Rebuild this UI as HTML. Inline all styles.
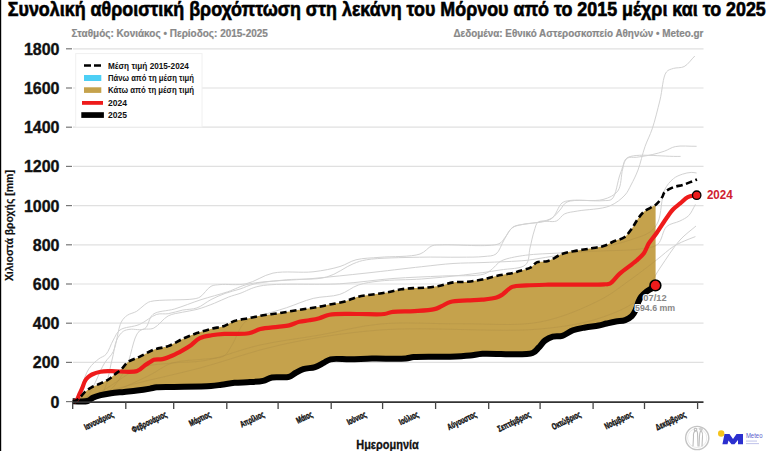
<!DOCTYPE html>
<html><head><meta charset="utf-8">
<style>
html,body{margin:0;padding:0;background:#fff;}
body{width:768px;height:451px;overflow:hidden;position:relative;}
svg{position:absolute;left:0;top:0;}
text{font-family:"Liberation Sans",sans-serif;font-weight:bold;}
.grid{stroke:#e0e0e0;stroke-width:1.2;}
.tk{stroke:#777;stroke-width:1.2;}
.xtk{stroke:#444;stroke-width:1.3;}
.yl{font-size:16px;text-anchor:end;fill:#111;stroke:#111;stroke-width:0.35;}
.ml{font-size:8.8px;text-anchor:middle;fill:#111;stroke:#111;stroke-width:0.45;}
.gl path{fill:none;stroke:#d2d2d2;stroke-width:1;}
.gi path{fill:none;stroke:#a88a45;stroke-width:1;opacity:.32}
</style></head>
<body>
<svg width="768" height="451" viewBox="0 0 768 451">
<rect x="0" y="0" width="1.2" height="451" fill="#000"/>
<text x="7.8" y="15.6" font-size="19.3" textLength="758" lengthAdjust="spacingAndGlyphs" fill="#000" stroke="#000" stroke-width="0.6">Συνολική αθροιστική βροχόπτωση στη λεκάνη του Μόρνου από το 2015 μέχρι και το 2025</text>
<text x="71.5" y="37" font-size="10.3" textLength="196.4" lengthAdjust="spacingAndGlyphs" fill="#888" stroke="#888" stroke-width="0.2">Σταθμός: Κονιάκος • Περίοδος: 2015-2025</text>
<text x="703.4" y="37" font-size="10.3" text-anchor="end" textLength="250" lengthAdjust="spacingAndGlyphs" fill="#888" stroke="#888" stroke-width="0.2">Δεδομένα: Εθνικό Αστεροσκοπείο Αθηνών • Meteo.gr</text>
<line x1="66" y1="401.6" x2="72" y2="401.6" class="tk"/><text x="59.5" y="407.5" class="yl">0</text><line x1="66" y1="362.4" x2="72" y2="362.4" class="tk"/><line x1="73" y1="362.4" x2="703.5" y2="362.4" class="grid"/><text x="59.5" y="368.3" class="yl">200</text><line x1="66" y1="323.2" x2="72" y2="323.2" class="tk"/><line x1="73" y1="323.2" x2="703.5" y2="323.2" class="grid"/><text x="59.5" y="329.1" class="yl">400</text><line x1="66" y1="284.0" x2="72" y2="284.0" class="tk"/><line x1="73" y1="284.0" x2="703.5" y2="284.0" class="grid"/><text x="59.5" y="289.9" class="yl">600</text><line x1="66" y1="244.8" x2="72" y2="244.8" class="tk"/><line x1="73" y1="244.8" x2="703.5" y2="244.8" class="grid"/><text x="59.5" y="250.7" class="yl">800</text><line x1="66" y1="205.6" x2="72" y2="205.6" class="tk"/><line x1="73" y1="205.6" x2="703.5" y2="205.6" class="grid"/><text x="59.5" y="211.5" class="yl">1000</text><line x1="66" y1="166.4" x2="72" y2="166.4" class="tk"/><line x1="73" y1="166.4" x2="703.5" y2="166.4" class="grid"/><text x="59.5" y="172.3" class="yl">1200</text><line x1="66" y1="127.2" x2="72" y2="127.2" class="tk"/><line x1="73" y1="127.2" x2="703.5" y2="127.2" class="grid"/><text x="59.5" y="133.1" class="yl">1400</text><line x1="66" y1="88.0" x2="72" y2="88.0" class="tk"/><line x1="73" y1="88.0" x2="703.5" y2="88.0" class="grid"/><text x="59.5" y="93.9" class="yl">1600</text><line x1="66" y1="48.8" x2="72" y2="48.8" class="tk"/><line x1="73" y1="48.8" x2="703.5" y2="48.8" class="grid"/><text x="59.5" y="54.7" class="yl">1800</text>
<g class="gl">
<path d="M72.70,401.60 C78.47,400.73 84.07,400.33 90.00,399.00 C96.48,397.55 102.30,395.87 110.00,393.00 C121.16,388.84 138.73,380.60 150.00,375.00 C158.51,370.77 163.64,365.68 172.00,363.00 C181.63,359.91 195.52,360.32 205.00,359.00 C212.21,357.99 219.38,358.83 224.00,356.00 C227.88,353.62 229.15,349.43 232.00,345.00 C235.97,338.82 239.51,326.80 245.00,322.00 C249.29,318.25 254.24,318.05 260.00,316.00 C267.56,313.31 277.76,310.62 286.60,307.70 C295.49,304.76 304.23,300.62 313.20,298.40 C321.97,296.23 331.90,296.92 339.80,294.40 C346.75,292.18 351.80,287.23 358.40,285.00 C365.18,282.71 371.59,281.98 380.00,281.00 C391.60,279.65 407.82,280.00 421.70,279.00 C435.59,278.00 449.88,276.56 463.30,275.00 C475.93,273.53 488.87,271.92 500.00,270.00 C509.39,268.38 521.00,269.20 525.80,264.60 C529.67,260.89 528.61,253.57 530.00,248.00 C531.41,242.37 532.56,235.71 534.20,231.00 C535.43,227.46 535.62,223.83 538.30,222.00 C541.93,219.52 551.81,222.87 556.40,221.00 C559.91,219.57 561.15,215.65 564.40,214.00 C568.08,212.13 572.29,212.03 577.70,211.00 C586.02,209.41 601.19,209.44 609.60,206.00 C616.04,203.37 621.32,198.99 625.00,195.00 C627.89,191.87 629.02,188.73 631.00,185.00 C633.36,180.56 635.85,175.64 638.00,170.00 C640.61,163.15 642.46,153.80 645.00,146.60 C647.24,140.23 649.94,135.60 652.20,128.90 C655.02,120.52 657.61,109.58 660.00,100.00 C662.34,90.62 662.72,76.71 666.40,72.00 C668.34,69.52 670.82,69.28 673.50,68.40 C676.61,67.37 680.80,68.29 684.10,66.60 C688.00,64.60 691.23,59.53 694.80,56.00"/>
<path d="M72.70,401.60 C76.80,400.73 81.07,401.93 85.00,399.00 C92.09,393.72 99.10,371.52 104.60,363.00 C107.86,357.94 110.84,356.52 113.30,351.50 C116.89,344.19 117.97,328.13 121.30,322.00 C123.11,318.68 124.84,317.06 127.30,315.30 C129.92,313.43 133.81,313.06 136.70,311.30 C139.61,309.53 142.17,306.42 144.70,304.70 C146.72,303.33 147.53,302.36 150.50,301.50 C158.02,299.33 184.86,300.38 193.00,299.00 C196.36,298.43 197.59,298.40 200.00,297.00 C203.50,294.97 207.21,288.27 211.00,286.30 C213.93,284.78 216.20,285.01 220.00,284.60 C226.40,283.90 237.41,285.58 246.00,283.80 C255.08,281.92 262.92,275.20 273.00,273.10 C284.84,270.64 301.02,273.16 313.00,271.80 C322.93,270.67 332.27,268.85 340.00,266.50 C346.14,264.63 350.00,261.33 356.00,259.80 C363.07,257.99 370.98,258.14 380.00,257.30 C391.63,256.21 410.84,257.25 420.00,254.00 C425.51,252.04 427.94,247.27 432.00,245.80 C435.46,244.55 437.60,245.08 442.50,244.80 C453.84,244.16 490.03,247.67 499.00,243.75 C502.51,242.21 502.93,239.92 505.00,237.50 C507.56,234.51 509.51,229.25 513.00,227.00 C516.50,224.74 521.57,224.83 526.00,224.00 C530.56,223.15 535.56,223.05 540.00,222.00 C544.20,221.01 548.61,220.10 552.00,218.00 C555.21,216.02 557.47,212.71 560.00,210.00 C562.46,207.37 563.19,203.81 567.00,202.00 C574.01,198.67 595.02,201.59 603.00,200.70 C607.02,200.25 609.51,201.18 612.00,199.00 C616.21,195.30 617.37,181.32 620.20,174.00 C622.50,168.06 623.91,160.65 627.30,158.20 C629.74,156.44 632.81,157.76 636.20,157.30 C640.77,156.68 647.23,155.72 652.20,154.60 C656.63,153.61 660.66,152.48 664.60,151.10 C668.34,149.79 671.02,147.49 675.30,146.60 C681.10,145.39 689.50,146.40 696.60,146.30"/>
<path d="M72.70,401.60 C73.73,401.07 74.68,401.22 75.80,400.00 C79.28,396.22 83.96,376.12 88.80,368.90 C91.95,364.20 95.69,361.35 98.90,358.80 C101.36,356.85 103.89,356.70 106.00,354.40 C108.93,351.21 110.78,344.30 113.30,340.00 C115.47,336.29 116.56,332.50 120.00,330.00 C124.45,326.77 133.27,327.11 139.40,324.50 C145.51,321.90 151.34,316.03 156.70,314.40 C160.77,313.17 164.18,314.32 168.20,313.70 C172.76,313.00 177.78,311.07 182.60,310.10 C187.38,309.14 192.39,309.55 197.00,307.90 C201.88,306.16 206.25,302.04 211.00,299.60 C215.62,297.23 220.28,295.16 225.10,293.40 C229.94,291.63 235.13,290.59 240.00,289.00 C244.76,287.45 248.27,285.38 254.00,284.00 C262.52,281.96 275.17,280.92 286.60,279.80 C299.21,278.56 314.82,280.28 326.50,277.10 C336.57,274.36 345.65,266.76 353.10,263.80 C358.19,261.78 360.40,260.83 366.40,259.80 C378.14,257.78 403.08,257.60 419.60,257.20 C433.99,256.85 448.28,257.37 460.00,257.20 C469.04,257.07 477.40,257.28 484.00,256.50 C488.72,255.94 492.78,256.34 496.00,254.00 C499.69,251.32 501.25,244.44 504.00,240.00 C506.60,235.80 508.68,230.58 512.00,228.00 C514.85,225.79 517.75,225.64 522.00,224.50 C529.10,222.60 544.17,223.45 551.00,219.00 C556.54,215.39 558.10,205.88 562.00,203.00 C564.56,201.11 566.37,201.11 570.00,200.50 C577.20,199.29 594.41,201.93 603.00,199.50 C609.18,197.75 614.50,195.48 617.80,191.00 C621.59,185.85 620.87,175.02 622.70,169.00 C624.03,164.64 623.35,160.58 627.00,158.00 C634.79,152.51 662.73,156.93 680.60,156.40"/>
<path d="M72.70,401.60 C81.80,399.73 93.52,401.75 100.00,396.00 C107.56,389.29 109.08,370.31 112.00,360.00 C114.15,352.42 114.29,345.11 116.70,340.00 C118.45,336.27 120.77,333.05 123.30,331.30 C125.32,329.90 127.30,329.75 130.00,329.30 C133.92,328.65 140.91,330.99 144.70,328.70 C148.72,326.28 148.65,317.68 153.00,314.40 C158.04,310.60 167.01,311.25 174.50,309.00 C182.93,306.47 192.11,302.57 201.00,299.70 C209.85,296.84 219.34,294.56 227.70,291.80 C235.24,289.31 239.82,286.04 249.00,284.00 C264.45,280.57 292.68,280.41 313.00,278.50 C331.51,276.76 348.12,275.04 366.00,273.10 C384.34,271.11 405.79,268.43 421.70,266.70 C433.62,265.41 442.58,264.20 453.00,263.50 C463.35,262.81 472.89,262.96 484.00,262.50 C496.94,261.97 515.77,261.42 526.00,260.40 C531.94,259.81 533.71,259.31 540.00,258.30 C553.04,256.20 583.50,251.61 600.00,248.00 C611.78,245.42 621.09,242.96 630.00,240.00 C637.42,237.54 645.14,235.60 650.00,232.00 C653.74,229.22 655.83,226.62 658.00,222.00 C661.47,214.62 661.04,197.69 664.60,190.00 C666.97,184.88 670.20,181.29 673.50,178.60 C676.24,176.37 679.37,175.24 682.40,174.20 C685.28,173.21 688.61,172.52 691.20,172.40 C693.21,172.31 694.80,172.80 696.60,173.00"/>
<path d="M72.70,401.60 C83.47,399.07 96.21,399.43 105.00,394.00 C113.53,388.73 119.50,379.52 125.00,370.00 C131.35,359.02 132.55,336.87 139.40,331.00 C143.47,327.51 149.26,330.30 153.80,328.10 C158.94,325.61 163.08,318.55 168.20,315.90 C172.75,313.55 177.78,313.29 182.60,312.20 C187.38,311.12 192.02,310.76 197.00,309.40 C202.60,307.87 209.01,305.37 214.50,303.20 C219.52,301.22 224.19,298.70 228.70,297.00 C232.64,295.52 235.72,294.87 240.00,293.40 C245.74,291.42 250.92,287.76 260.00,286.00 C277.57,282.60 315.91,285.32 339.80,283.80 C359.35,282.56 375.57,279.81 393.00,278.50 C409.78,277.24 426.71,276.78 442.50,276.00 C457.00,275.29 475.82,276.65 484.20,274.00 C488.26,272.72 490.03,270.73 492.50,268.75 C494.85,266.87 496.53,264.10 498.75,262.50 C500.72,261.08 502.23,260.35 505.00,259.40 C509.84,257.74 517.97,256.24 525.80,255.20 C535.75,253.88 548.15,253.68 560.00,253.00 C572.81,252.27 586.67,251.67 600.00,251.00 C613.33,250.33 629.42,250.65 640.00,249.00 C647.16,247.88 653.29,247.88 657.70,244.30 C662.28,240.58 662.43,230.50 666.60,226.60 C670.16,223.27 675.98,223.02 679.90,221.00 C683.24,219.28 686.30,218.04 688.80,215.50 C691.58,212.68 693.20,208.10 695.40,204.40"/>
<path d="M72.70,401.60 C81.80,398.40 90.28,396.57 100.00,392.00 C112.34,386.20 126.96,372.73 140.00,368.00 C150.87,364.06 161.26,364.23 172.00,363.00 C182.79,361.76 192.42,362.74 204.60,360.60 C220.76,357.76 241.05,349.23 260.00,345.00 C279.49,340.65 300.01,338.50 320.00,335.00 C340.01,331.50 358.47,325.99 380.00,324.00 C404.66,321.72 433.33,324.08 460.00,323.75 C486.67,323.42 515.60,326.61 540.00,322.00 C561.81,317.88 583.82,308.21 600.00,300.00 C612.15,293.83 620.40,286.82 630.00,280.00 C639.23,273.44 648.79,265.96 656.60,259.90 C662.85,255.05 668.16,249.91 673.30,246.60 C677.21,244.08 680.59,242.68 684.30,241.00 C687.95,239.35 691.70,238.07 695.40,236.60"/>
<path d="M72.70,401.60 C91.80,396.07 109.88,390.35 130.00,385.00 C152.11,379.12 175.96,374.37 200.00,368.00 C225.85,361.15 251.63,351.18 280.00,345.00 C311.27,338.19 342.65,332.90 380.00,330.00 C426.98,326.35 499.61,332.80 540.00,329.00 C564.94,326.65 582.39,323.89 600.00,318.00 C615.08,312.96 629.78,307.02 640.00,298.00 C649.18,289.90 653.25,277.77 660.00,268.00 C666.59,258.45 673.27,247.43 680.00,240.00 C685.29,234.16 690.67,230.67 696.00,226.00"/>
</g>
<defs><clipPath id="fc"><path d="M72.70,401.60 C73.80,401.23 74.90,401.06 76.00,400.50 C77.27,399.86 78.50,398.97 79.80,397.80 C81.48,396.28 83.06,393.65 85.00,391.90 C86.95,390.14 89.07,388.66 91.50,387.30 C94.21,385.78 97.69,384.74 100.60,383.40 C103.34,382.14 106.07,381.05 108.50,379.50 C110.86,378.00 112.83,376.03 115.00,374.30 C117.17,372.57 119.41,371.06 121.50,369.10 C123.75,366.99 125.29,363.96 128.00,362.00 C131.09,359.77 135.40,358.79 139.40,356.90 C143.94,354.75 148.90,351.51 153.80,349.70 C158.51,347.96 163.49,347.84 168.20,346.10 C173.10,344.29 177.76,341.08 182.60,338.90 C187.36,336.76 192.15,334.79 197.00,333.10 C201.79,331.43 206.79,330.03 211.50,328.80 C215.91,327.65 220.44,327.27 224.40,325.90 C228.02,324.64 230.68,322.35 234.40,321.10 C238.68,319.67 244.00,319.17 248.80,318.20 C253.60,317.23 258.39,316.10 263.20,315.30 C267.99,314.50 272.81,314.12 277.60,313.40 C282.41,312.68 287.19,311.77 292.00,311.00 C296.82,310.23 301.81,309.54 306.50,308.80 C310.93,308.10 315.38,307.45 319.40,306.70 C322.95,306.04 325.76,305.35 329.40,304.60 C333.76,303.70 339.04,303.00 343.80,301.70 C348.65,300.38 353.34,297.90 358.20,296.70 C362.95,295.52 367.80,295.22 372.60,294.50 C377.40,293.78 382.21,293.28 387.00,292.40 C391.84,291.51 396.78,289.92 401.50,289.20 C405.90,288.53 410.37,288.33 414.40,288.10 C417.94,287.90 420.77,288.08 424.40,287.80 C428.77,287.46 434.03,286.89 438.80,286.00 C443.63,285.10 448.36,283.11 453.20,282.40 C457.97,281.70 462.81,282.18 467.60,281.70 C472.41,281.22 477.21,280.46 482.00,279.50 C486.85,278.53 491.45,276.98 496.50,275.90 C501.95,274.73 509.43,273.82 513.60,272.80 C516.07,272.20 517.14,271.70 519.40,271.00 C522.58,270.01 527.85,269.10 530.90,267.40 C533.33,266.05 534.24,263.50 536.70,262.40 C539.73,261.04 544.26,262.11 548.20,260.90 C552.85,259.48 557.69,255.43 562.60,253.70 C567.30,252.05 572.18,251.50 577.00,250.60 C581.81,249.70 586.81,249.13 591.50,248.30 C595.93,247.52 600.43,247.10 604.40,245.80 C608.08,244.60 611.21,242.44 614.60,241.00 C617.87,239.61 621.58,239.27 624.40,237.30 C627.31,235.26 629.48,231.82 631.70,228.80 C633.95,225.73 635.66,221.96 637.80,219.00 C639.74,216.31 641.31,213.91 643.90,211.70 C647.00,209.05 651.70,207.03 655.60,204.70 L655.60,285.60 L655.10,285.60 C654.00,286.50 653.06,287.40 651.80,288.30 C650.27,289.39 648.20,290.26 646.50,291.60 C644.62,293.08 642.48,295.08 641.10,296.90 C639.94,298.43 639.30,299.78 638.50,301.60 C637.50,303.88 636.95,307.12 635.80,309.60 C634.70,311.97 633.57,314.43 631.80,316.20 C630.03,317.97 627.69,319.31 625.20,320.20 C622.45,321.18 618.99,320.95 615.90,321.50 C612.79,322.05 609.58,322.81 606.60,323.50 C603.83,324.14 601.62,324.90 598.60,325.50 C594.74,326.27 589.63,326.68 585.30,327.50 C581.10,328.29 576.88,328.89 573.00,330.30 C569.19,331.68 565.77,334.78 562.20,335.80 C559.05,336.70 555.71,335.78 552.80,336.60 C550.00,337.39 547.31,338.73 545.00,340.50 C542.60,342.33 540.90,345.37 538.75,347.50 C536.73,349.51 535.95,351.67 532.50,353.00 C524.04,356.26 493.59,352.89 482.50,353.75 C476.93,354.18 474.66,355.03 470.00,355.50 C464.14,356.09 457.73,356.43 450.10,356.70 C439.79,357.07 421.36,356.42 413.70,357.10 C410.13,357.42 409.43,358.10 405.90,358.40 C398.59,359.03 382.07,358.41 372.00,358.60 C363.90,358.75 357.19,359.19 350.10,359.30 C343.41,359.41 335.27,358.18 330.60,359.30 C327.75,359.98 326.45,361.42 324.10,362.60 C321.32,363.99 318.31,366.02 315.00,367.10 C311.42,368.26 306.75,367.98 303.30,369.10 C300.33,370.06 297.88,371.65 295.40,373.00 C293.10,374.25 291.71,376.07 288.90,376.90 C284.70,378.14 276.68,376.57 272.00,377.50 C268.50,378.19 266.40,380.04 263.10,380.80 C259.23,381.70 254.64,381.77 250.10,382.10 C245.14,382.46 239.45,382.33 234.50,382.80 C229.96,383.23 225.61,384.15 221.50,384.70 C217.82,385.20 215.62,385.66 211.00,386.00 C202.13,386.65 182.03,386.65 172.00,386.90 C165.70,387.05 160.63,386.85 156.60,387.30 C153.96,387.60 152.64,388.15 150.10,388.60 C146.52,389.23 141.44,390.05 137.10,390.60 C132.77,391.15 128.44,391.47 124.10,391.90 C119.74,392.33 115.10,392.60 111.00,393.20 C107.32,393.74 103.79,394.36 100.60,395.20 C97.79,395.94 95.08,396.73 92.80,397.80 C90.83,398.72 89.90,400.32 87.60,401.00 C84.01,402.06 77.67,401.20 72.70,401.30 Z"/></clipPath></defs>
<path d="M72.70,401.60 C73.80,401.23 74.90,401.06 76.00,400.50 C77.27,399.86 78.50,398.97 79.80,397.80 C81.48,396.28 83.06,393.65 85.00,391.90 C86.95,390.14 89.07,388.66 91.50,387.30 C94.21,385.78 97.69,384.74 100.60,383.40 C103.34,382.14 106.07,381.05 108.50,379.50 C110.86,378.00 112.83,376.03 115.00,374.30 C117.17,372.57 119.41,371.06 121.50,369.10 C123.75,366.99 125.29,363.96 128.00,362.00 C131.09,359.77 135.40,358.79 139.40,356.90 C143.94,354.75 148.90,351.51 153.80,349.70 C158.51,347.96 163.49,347.84 168.20,346.10 C173.10,344.29 177.76,341.08 182.60,338.90 C187.36,336.76 192.15,334.79 197.00,333.10 C201.79,331.43 206.79,330.03 211.50,328.80 C215.91,327.65 220.44,327.27 224.40,325.90 C228.02,324.64 230.68,322.35 234.40,321.10 C238.68,319.67 244.00,319.17 248.80,318.20 C253.60,317.23 258.39,316.10 263.20,315.30 C267.99,314.50 272.81,314.12 277.60,313.40 C282.41,312.68 287.19,311.77 292.00,311.00 C296.82,310.23 301.81,309.54 306.50,308.80 C310.93,308.10 315.38,307.45 319.40,306.70 C322.95,306.04 325.76,305.35 329.40,304.60 C333.76,303.70 339.04,303.00 343.80,301.70 C348.65,300.38 353.34,297.90 358.20,296.70 C362.95,295.52 367.80,295.22 372.60,294.50 C377.40,293.78 382.21,293.28 387.00,292.40 C391.84,291.51 396.78,289.92 401.50,289.20 C405.90,288.53 410.37,288.33 414.40,288.10 C417.94,287.90 420.77,288.08 424.40,287.80 C428.77,287.46 434.03,286.89 438.80,286.00 C443.63,285.10 448.36,283.11 453.20,282.40 C457.97,281.70 462.81,282.18 467.60,281.70 C472.41,281.22 477.21,280.46 482.00,279.50 C486.85,278.53 491.45,276.98 496.50,275.90 C501.95,274.73 509.43,273.82 513.60,272.80 C516.07,272.20 517.14,271.70 519.40,271.00 C522.58,270.01 527.85,269.10 530.90,267.40 C533.33,266.05 534.24,263.50 536.70,262.40 C539.73,261.04 544.26,262.11 548.20,260.90 C552.85,259.48 557.69,255.43 562.60,253.70 C567.30,252.05 572.18,251.50 577.00,250.60 C581.81,249.70 586.81,249.13 591.50,248.30 C595.93,247.52 600.43,247.10 604.40,245.80 C608.08,244.60 611.21,242.44 614.60,241.00 C617.87,239.61 621.58,239.27 624.40,237.30 C627.31,235.26 629.48,231.82 631.70,228.80 C633.95,225.73 635.66,221.96 637.80,219.00 C639.74,216.31 641.31,213.91 643.90,211.70 C647.00,209.05 651.70,207.03 655.60,204.70 L655.60,285.60 L655.10,285.60 C654.00,286.50 653.06,287.40 651.80,288.30 C650.27,289.39 648.20,290.26 646.50,291.60 C644.62,293.08 642.48,295.08 641.10,296.90 C639.94,298.43 639.30,299.78 638.50,301.60 C637.50,303.88 636.95,307.12 635.80,309.60 C634.70,311.97 633.57,314.43 631.80,316.20 C630.03,317.97 627.69,319.31 625.20,320.20 C622.45,321.18 618.99,320.95 615.90,321.50 C612.79,322.05 609.58,322.81 606.60,323.50 C603.83,324.14 601.62,324.90 598.60,325.50 C594.74,326.27 589.63,326.68 585.30,327.50 C581.10,328.29 576.88,328.89 573.00,330.30 C569.19,331.68 565.77,334.78 562.20,335.80 C559.05,336.70 555.71,335.78 552.80,336.60 C550.00,337.39 547.31,338.73 545.00,340.50 C542.60,342.33 540.90,345.37 538.75,347.50 C536.73,349.51 535.95,351.67 532.50,353.00 C524.04,356.26 493.59,352.89 482.50,353.75 C476.93,354.18 474.66,355.03 470.00,355.50 C464.14,356.09 457.73,356.43 450.10,356.70 C439.79,357.07 421.36,356.42 413.70,357.10 C410.13,357.42 409.43,358.10 405.90,358.40 C398.59,359.03 382.07,358.41 372.00,358.60 C363.90,358.75 357.19,359.19 350.10,359.30 C343.41,359.41 335.27,358.18 330.60,359.30 C327.75,359.98 326.45,361.42 324.10,362.60 C321.32,363.99 318.31,366.02 315.00,367.10 C311.42,368.26 306.75,367.98 303.30,369.10 C300.33,370.06 297.88,371.65 295.40,373.00 C293.10,374.25 291.71,376.07 288.90,376.90 C284.70,378.14 276.68,376.57 272.00,377.50 C268.50,378.19 266.40,380.04 263.10,380.80 C259.23,381.70 254.64,381.77 250.10,382.10 C245.14,382.46 239.45,382.33 234.50,382.80 C229.96,383.23 225.61,384.15 221.50,384.70 C217.82,385.20 215.62,385.66 211.00,386.00 C202.13,386.65 182.03,386.65 172.00,386.90 C165.70,387.05 160.63,386.85 156.60,387.30 C153.96,387.60 152.64,388.15 150.10,388.60 C146.52,389.23 141.44,390.05 137.10,390.60 C132.77,391.15 128.44,391.47 124.10,391.90 C119.74,392.33 115.10,392.60 111.00,393.20 C107.32,393.74 103.79,394.36 100.60,395.20 C97.79,395.94 95.08,396.73 92.80,397.80 C90.83,398.72 89.90,400.32 87.60,401.00 C84.01,402.06 77.67,401.20 72.70,401.30 Z" fill="#c5a24c"/>
<g class="gi" clip-path="url(#fc)">
<path d="M72.70,401.60 C78.47,400.73 84.07,400.33 90.00,399.00 C96.48,397.55 102.30,395.87 110.00,393.00 C121.16,388.84 138.73,380.60 150.00,375.00 C158.51,370.77 163.64,365.68 172.00,363.00 C181.63,359.91 195.52,360.32 205.00,359.00 C212.21,357.99 219.38,358.83 224.00,356.00 C227.88,353.62 229.15,349.43 232.00,345.00 C235.97,338.82 239.51,326.80 245.00,322.00 C249.29,318.25 254.24,318.05 260.00,316.00 C267.56,313.31 277.76,310.62 286.60,307.70 C295.49,304.76 304.23,300.62 313.20,298.40 C321.97,296.23 331.90,296.92 339.80,294.40 C346.75,292.18 351.80,287.23 358.40,285.00 C365.18,282.71 371.59,281.98 380.00,281.00 C391.60,279.65 407.82,280.00 421.70,279.00 C435.59,278.00 449.88,276.56 463.30,275.00 C475.93,273.53 488.87,271.92 500.00,270.00 C509.39,268.38 521.00,269.20 525.80,264.60 C529.67,260.89 528.61,253.57 530.00,248.00 C531.41,242.37 532.56,235.71 534.20,231.00 C535.43,227.46 535.62,223.83 538.30,222.00 C541.93,219.52 551.81,222.87 556.40,221.00 C559.91,219.57 561.15,215.65 564.40,214.00 C568.08,212.13 572.29,212.03 577.70,211.00 C586.02,209.41 601.19,209.44 609.60,206.00 C616.04,203.37 621.32,198.99 625.00,195.00 C627.89,191.87 629.02,188.73 631.00,185.00 C633.36,180.56 635.85,175.64 638.00,170.00 C640.61,163.15 642.46,153.80 645.00,146.60 C647.24,140.23 649.94,135.60 652.20,128.90 C655.02,120.52 657.61,109.58 660.00,100.00 C662.34,90.62 662.72,76.71 666.40,72.00 C668.34,69.52 670.82,69.28 673.50,68.40 C676.61,67.37 680.80,68.29 684.10,66.60 C688.00,64.60 691.23,59.53 694.80,56.00"/>
<path d="M72.70,401.60 C76.80,400.73 81.07,401.93 85.00,399.00 C92.09,393.72 99.10,371.52 104.60,363.00 C107.86,357.94 110.84,356.52 113.30,351.50 C116.89,344.19 117.97,328.13 121.30,322.00 C123.11,318.68 124.84,317.06 127.30,315.30 C129.92,313.43 133.81,313.06 136.70,311.30 C139.61,309.53 142.17,306.42 144.70,304.70 C146.72,303.33 147.53,302.36 150.50,301.50 C158.02,299.33 184.86,300.38 193.00,299.00 C196.36,298.43 197.59,298.40 200.00,297.00 C203.50,294.97 207.21,288.27 211.00,286.30 C213.93,284.78 216.20,285.01 220.00,284.60 C226.40,283.90 237.41,285.58 246.00,283.80 C255.08,281.92 262.92,275.20 273.00,273.10 C284.84,270.64 301.02,273.16 313.00,271.80 C322.93,270.67 332.27,268.85 340.00,266.50 C346.14,264.63 350.00,261.33 356.00,259.80 C363.07,257.99 370.98,258.14 380.00,257.30 C391.63,256.21 410.84,257.25 420.00,254.00 C425.51,252.04 427.94,247.27 432.00,245.80 C435.46,244.55 437.60,245.08 442.50,244.80 C453.84,244.16 490.03,247.67 499.00,243.75 C502.51,242.21 502.93,239.92 505.00,237.50 C507.56,234.51 509.51,229.25 513.00,227.00 C516.50,224.74 521.57,224.83 526.00,224.00 C530.56,223.15 535.56,223.05 540.00,222.00 C544.20,221.01 548.61,220.10 552.00,218.00 C555.21,216.02 557.47,212.71 560.00,210.00 C562.46,207.37 563.19,203.81 567.00,202.00 C574.01,198.67 595.02,201.59 603.00,200.70 C607.02,200.25 609.51,201.18 612.00,199.00 C616.21,195.30 617.37,181.32 620.20,174.00 C622.50,168.06 623.91,160.65 627.30,158.20 C629.74,156.44 632.81,157.76 636.20,157.30 C640.77,156.68 647.23,155.72 652.20,154.60 C656.63,153.61 660.66,152.48 664.60,151.10 C668.34,149.79 671.02,147.49 675.30,146.60 C681.10,145.39 689.50,146.40 696.60,146.30"/>
<path d="M72.70,401.60 C73.73,401.07 74.68,401.22 75.80,400.00 C79.28,396.22 83.96,376.12 88.80,368.90 C91.95,364.20 95.69,361.35 98.90,358.80 C101.36,356.85 103.89,356.70 106.00,354.40 C108.93,351.21 110.78,344.30 113.30,340.00 C115.47,336.29 116.56,332.50 120.00,330.00 C124.45,326.77 133.27,327.11 139.40,324.50 C145.51,321.90 151.34,316.03 156.70,314.40 C160.77,313.17 164.18,314.32 168.20,313.70 C172.76,313.00 177.78,311.07 182.60,310.10 C187.38,309.14 192.39,309.55 197.00,307.90 C201.88,306.16 206.25,302.04 211.00,299.60 C215.62,297.23 220.28,295.16 225.10,293.40 C229.94,291.63 235.13,290.59 240.00,289.00 C244.76,287.45 248.27,285.38 254.00,284.00 C262.52,281.96 275.17,280.92 286.60,279.80 C299.21,278.56 314.82,280.28 326.50,277.10 C336.57,274.36 345.65,266.76 353.10,263.80 C358.19,261.78 360.40,260.83 366.40,259.80 C378.14,257.78 403.08,257.60 419.60,257.20 C433.99,256.85 448.28,257.37 460.00,257.20 C469.04,257.07 477.40,257.28 484.00,256.50 C488.72,255.94 492.78,256.34 496.00,254.00 C499.69,251.32 501.25,244.44 504.00,240.00 C506.60,235.80 508.68,230.58 512.00,228.00 C514.85,225.79 517.75,225.64 522.00,224.50 C529.10,222.60 544.17,223.45 551.00,219.00 C556.54,215.39 558.10,205.88 562.00,203.00 C564.56,201.11 566.37,201.11 570.00,200.50 C577.20,199.29 594.41,201.93 603.00,199.50 C609.18,197.75 614.50,195.48 617.80,191.00 C621.59,185.85 620.87,175.02 622.70,169.00 C624.03,164.64 623.35,160.58 627.00,158.00 C634.79,152.51 662.73,156.93 680.60,156.40"/>
<path d="M72.70,401.60 C81.80,399.73 93.52,401.75 100.00,396.00 C107.56,389.29 109.08,370.31 112.00,360.00 C114.15,352.42 114.29,345.11 116.70,340.00 C118.45,336.27 120.77,333.05 123.30,331.30 C125.32,329.90 127.30,329.75 130.00,329.30 C133.92,328.65 140.91,330.99 144.70,328.70 C148.72,326.28 148.65,317.68 153.00,314.40 C158.04,310.60 167.01,311.25 174.50,309.00 C182.93,306.47 192.11,302.57 201.00,299.70 C209.85,296.84 219.34,294.56 227.70,291.80 C235.24,289.31 239.82,286.04 249.00,284.00 C264.45,280.57 292.68,280.41 313.00,278.50 C331.51,276.76 348.12,275.04 366.00,273.10 C384.34,271.11 405.79,268.43 421.70,266.70 C433.62,265.41 442.58,264.20 453.00,263.50 C463.35,262.81 472.89,262.96 484.00,262.50 C496.94,261.97 515.77,261.42 526.00,260.40 C531.94,259.81 533.71,259.31 540.00,258.30 C553.04,256.20 583.50,251.61 600.00,248.00 C611.78,245.42 621.09,242.96 630.00,240.00 C637.42,237.54 645.14,235.60 650.00,232.00 C653.74,229.22 655.83,226.62 658.00,222.00 C661.47,214.62 661.04,197.69 664.60,190.00 C666.97,184.88 670.20,181.29 673.50,178.60 C676.24,176.37 679.37,175.24 682.40,174.20 C685.28,173.21 688.61,172.52 691.20,172.40 C693.21,172.31 694.80,172.80 696.60,173.00"/>
<path d="M72.70,401.60 C83.47,399.07 96.21,399.43 105.00,394.00 C113.53,388.73 119.50,379.52 125.00,370.00 C131.35,359.02 132.55,336.87 139.40,331.00 C143.47,327.51 149.26,330.30 153.80,328.10 C158.94,325.61 163.08,318.55 168.20,315.90 C172.75,313.55 177.78,313.29 182.60,312.20 C187.38,311.12 192.02,310.76 197.00,309.40 C202.60,307.87 209.01,305.37 214.50,303.20 C219.52,301.22 224.19,298.70 228.70,297.00 C232.64,295.52 235.72,294.87 240.00,293.40 C245.74,291.42 250.92,287.76 260.00,286.00 C277.57,282.60 315.91,285.32 339.80,283.80 C359.35,282.56 375.57,279.81 393.00,278.50 C409.78,277.24 426.71,276.78 442.50,276.00 C457.00,275.29 475.82,276.65 484.20,274.00 C488.26,272.72 490.03,270.73 492.50,268.75 C494.85,266.87 496.53,264.10 498.75,262.50 C500.72,261.08 502.23,260.35 505.00,259.40 C509.84,257.74 517.97,256.24 525.80,255.20 C535.75,253.88 548.15,253.68 560.00,253.00 C572.81,252.27 586.67,251.67 600.00,251.00 C613.33,250.33 629.42,250.65 640.00,249.00 C647.16,247.88 653.29,247.88 657.70,244.30 C662.28,240.58 662.43,230.50 666.60,226.60 C670.16,223.27 675.98,223.02 679.90,221.00 C683.24,219.28 686.30,218.04 688.80,215.50 C691.58,212.68 693.20,208.10 695.40,204.40"/>
<path d="M72.70,401.60 C81.80,398.40 90.28,396.57 100.00,392.00 C112.34,386.20 126.96,372.73 140.00,368.00 C150.87,364.06 161.26,364.23 172.00,363.00 C182.79,361.76 192.42,362.74 204.60,360.60 C220.76,357.76 241.05,349.23 260.00,345.00 C279.49,340.65 300.01,338.50 320.00,335.00 C340.01,331.50 358.47,325.99 380.00,324.00 C404.66,321.72 433.33,324.08 460.00,323.75 C486.67,323.42 515.60,326.61 540.00,322.00 C561.81,317.88 583.82,308.21 600.00,300.00 C612.15,293.83 620.40,286.82 630.00,280.00 C639.23,273.44 648.79,265.96 656.60,259.90 C662.85,255.05 668.16,249.91 673.30,246.60 C677.21,244.08 680.59,242.68 684.30,241.00 C687.95,239.35 691.70,238.07 695.40,236.60"/>
<path d="M72.70,401.60 C91.80,396.07 109.88,390.35 130.00,385.00 C152.11,379.12 175.96,374.37 200.00,368.00 C225.85,361.15 251.63,351.18 280.00,345.00 C311.27,338.19 342.65,332.90 380.00,330.00 C426.98,326.35 499.61,332.80 540.00,329.00 C564.94,326.65 582.39,323.89 600.00,318.00 C615.08,312.96 629.78,307.02 640.00,298.00 C649.18,289.90 653.25,277.77 660.00,268.00 C666.59,258.45 673.27,247.43 680.00,240.00 C685.29,234.16 690.67,230.67 696.00,226.00"/>
</g>
<path d="M72.70,401.30 C77.67,401.20 84.01,402.06 87.60,401.00 C89.90,400.32 90.83,398.72 92.80,397.80 C95.08,396.73 97.79,395.94 100.60,395.20 C103.79,394.36 107.32,393.74 111.00,393.20 C115.10,392.60 119.74,392.33 124.10,391.90 C128.44,391.47 132.77,391.15 137.10,390.60 C141.44,390.05 146.52,389.23 150.10,388.60 C152.64,388.15 153.96,387.60 156.60,387.30 C160.63,386.85 165.70,387.05 172.00,386.90 C182.03,386.65 202.13,386.65 211.00,386.00 C215.62,385.66 217.82,385.20 221.50,384.70 C225.61,384.15 229.96,383.23 234.50,382.80 C239.45,382.33 245.14,382.46 250.10,382.10 C254.64,381.77 259.23,381.70 263.10,380.80 C266.40,380.04 268.50,378.19 272.00,377.50 C276.68,376.57 284.70,378.14 288.90,376.90 C291.71,376.07 293.10,374.25 295.40,373.00 C297.88,371.65 300.33,370.06 303.30,369.10 C306.75,367.98 311.42,368.26 315.00,367.10 C318.31,366.02 321.32,363.99 324.10,362.60 C326.45,361.42 327.75,359.98 330.60,359.30 C335.27,358.18 343.41,359.41 350.10,359.30 C357.19,359.19 363.90,358.75 372.00,358.60 C382.07,358.41 398.59,359.03 405.90,358.40 C409.43,358.10 410.13,357.42 413.70,357.10 C421.36,356.42 439.79,357.07 450.10,356.70 C457.73,356.43 464.14,356.09 470.00,355.50 C474.66,355.03 476.93,354.18 482.50,353.75 C493.59,352.89 524.04,356.26 532.50,353.00 C535.95,351.67 536.73,349.51 538.75,347.50 C540.90,345.37 542.60,342.33 545.00,340.50 C547.31,338.73 550.00,337.39 552.80,336.60 C555.71,335.78 559.05,336.70 562.20,335.80 C565.77,334.78 569.19,331.68 573.00,330.30 C576.88,328.89 581.10,328.29 585.30,327.50 C589.63,326.68 594.74,326.27 598.60,325.50 C601.62,324.90 603.83,324.14 606.60,323.50 C609.58,322.81 612.79,322.05 615.90,321.50 C618.99,320.95 622.45,321.18 625.20,320.20 C627.69,319.31 630.03,317.97 631.80,316.20 C633.57,314.43 634.70,311.97 635.80,309.60 C636.95,307.12 637.50,303.88 638.50,301.60 C639.30,299.78 639.94,298.43 641.10,296.90 C642.48,295.08 644.62,293.08 646.50,291.60 C648.20,290.26 650.27,289.39 651.80,288.30 C653.06,287.40 654.00,286.50 655.10,285.60" fill="none" stroke="#000" stroke-width="6" stroke-linejoin="round" stroke-linecap="butt"/>
<path d="M74.00,401.60 C74.83,401.23 75.78,401.21 76.50,400.50 C77.58,399.44 78.10,396.97 79.00,395.00 C80.04,392.71 81.37,390.01 82.40,387.60 C83.36,385.35 83.94,382.82 85.00,381.00 C85.87,379.51 86.84,378.38 88.00,377.30 C89.17,376.21 90.34,375.33 92.00,374.50 C94.26,373.37 97.56,372.27 100.60,371.70 C103.86,371.09 106.75,371.22 111.00,371.10 C117.73,370.91 131.13,373.08 137.10,371.10 C140.77,369.88 142.62,366.83 145.00,365.20 C146.86,363.93 148.53,362.96 150.10,362.00 C151.43,361.19 152.24,360.30 153.80,359.80 C156.03,359.09 159.53,359.74 162.50,359.10 C165.79,358.39 169.29,356.93 172.60,355.50 C175.99,354.04 179.57,352.08 182.60,350.40 C185.22,348.95 187.26,347.84 189.80,346.10 C192.95,343.94 196.21,340.00 199.90,338.20 C203.46,336.46 207.51,336.01 211.50,335.30 C215.66,334.56 219.41,334.23 224.40,333.90 C231.24,333.45 242.26,334.57 248.80,333.30 C253.44,332.40 256.01,330.06 260.30,329.00 C265.42,327.74 272.41,327.44 277.60,326.80 C281.85,326.27 285.51,326.27 289.20,325.40 C292.73,324.57 295.90,322.65 299.30,321.80 C302.60,320.97 305.97,320.90 309.30,320.30 C312.67,319.70 316.07,319.12 319.40,318.20 C322.77,317.26 325.13,315.48 329.40,314.70 C336.45,313.41 348.84,314.11 358.20,314.00 C367.09,313.89 377.91,314.79 384.20,314.00 C387.88,313.54 389.25,312.31 392.80,311.80 C398.34,311.01 407.34,311.57 414.40,311.10 C421.23,310.65 429.55,310.32 434.50,309.10 C437.57,308.35 439.22,307.32 441.70,306.20 C444.46,304.95 446.83,302.88 450.30,301.90 C454.97,300.58 462.09,300.77 467.60,300.40 C472.62,300.06 477.20,300.16 482.00,299.70 C486.84,299.23 492.85,298.76 496.50,297.60 C498.91,296.83 500.11,296.03 502.20,294.70 C505.15,292.82 508.31,288.47 512.20,286.90 C516.36,285.22 521.31,285.76 526.60,285.40 C533.07,284.96 539.31,284.88 548.20,284.70 C562.54,284.42 595.54,284.82 604.40,284.30 C607.15,284.14 607.91,284.61 609.80,283.70 C612.81,282.24 615.69,277.30 619.50,273.90 C624.29,269.64 632.18,264.41 636.60,260.50 C639.64,257.80 641.88,256.00 643.90,253.20 C645.98,250.32 646.84,246.57 648.80,243.40 C650.87,240.06 653.54,237.31 656.10,233.70 C659.19,229.35 662.81,223.35 665.90,219.00 C668.46,215.39 670.60,212.04 673.20,209.30 C675.50,206.88 678.07,205.23 680.50,203.20 C682.93,201.17 685.06,198.43 687.80,197.10 C690.48,195.80 693.73,195.83 696.70,195.20" fill="none" stroke="#ee1b1b" stroke-width="4.2" stroke-linejoin="round" stroke-linecap="butt"/>
<path d="M72.70,401.60 C73.80,401.23 74.90,401.06 76.00,400.50 C77.27,399.86 78.50,398.97 79.80,397.80 C81.48,396.28 83.06,393.65 85.00,391.90 C86.95,390.14 89.07,388.66 91.50,387.30 C94.21,385.78 97.69,384.74 100.60,383.40 C103.34,382.14 106.07,381.05 108.50,379.50 C110.86,378.00 112.83,376.03 115.00,374.30 C117.17,372.57 119.41,371.06 121.50,369.10 C123.75,366.99 125.29,363.96 128.00,362.00 C131.09,359.77 135.40,358.79 139.40,356.90 C143.94,354.75 148.90,351.51 153.80,349.70 C158.51,347.96 163.49,347.84 168.20,346.10 C173.10,344.29 177.76,341.08 182.60,338.90 C187.36,336.76 192.15,334.79 197.00,333.10 C201.79,331.43 206.79,330.03 211.50,328.80 C215.91,327.65 220.44,327.27 224.40,325.90 C228.02,324.64 230.68,322.35 234.40,321.10 C238.68,319.67 244.00,319.17 248.80,318.20 C253.60,317.23 258.39,316.10 263.20,315.30 C267.99,314.50 272.81,314.12 277.60,313.40 C282.41,312.68 287.19,311.77 292.00,311.00 C296.82,310.23 301.81,309.54 306.50,308.80 C310.93,308.10 315.38,307.45 319.40,306.70 C322.95,306.04 325.76,305.35 329.40,304.60 C333.76,303.70 339.04,303.00 343.80,301.70 C348.65,300.38 353.34,297.90 358.20,296.70 C362.95,295.52 367.80,295.22 372.60,294.50 C377.40,293.78 382.21,293.28 387.00,292.40 C391.84,291.51 396.78,289.92 401.50,289.20 C405.90,288.53 410.37,288.33 414.40,288.10 C417.94,287.90 420.77,288.08 424.40,287.80 C428.77,287.46 434.03,286.89 438.80,286.00 C443.63,285.10 448.36,283.11 453.20,282.40 C457.97,281.70 462.81,282.18 467.60,281.70 C472.41,281.22 477.21,280.46 482.00,279.50 C486.85,278.53 491.45,276.98 496.50,275.90 C501.95,274.73 509.43,273.82 513.60,272.80 C516.07,272.20 517.14,271.70 519.40,271.00 C522.58,270.01 527.85,269.10 530.90,267.40 C533.33,266.05 534.24,263.50 536.70,262.40 C539.73,261.04 544.26,262.11 548.20,260.90 C552.85,259.48 557.69,255.43 562.60,253.70 C567.30,252.05 572.18,251.50 577.00,250.60 C581.81,249.70 586.81,249.13 591.50,248.30 C595.93,247.52 600.43,247.10 604.40,245.80 C608.08,244.60 611.21,242.44 614.60,241.00 C617.87,239.61 621.58,239.27 624.40,237.30 C627.31,235.26 629.48,231.82 631.70,228.80 C633.95,225.73 635.66,221.96 637.80,219.00 C639.74,216.31 641.28,213.93 643.90,211.70 C647.10,208.97 652.90,207.13 656.10,204.40 C658.72,202.17 660.72,199.38 662.20,197.10 C663.32,195.38 663.23,193.65 664.60,192.20 C666.44,190.24 670.16,188.52 673.20,187.30 C676.26,186.08 679.69,185.90 682.90,184.90 C686.19,183.88 690.10,182.20 692.70,181.20 C694.43,180.53 695.57,180.07 697.00,179.50" fill="none" stroke="#000" stroke-width="2.6" stroke-dasharray="6.5,3.5"/>
<line x1="72.7" y1="402.1" x2="703.5" y2="402.1" stroke="#333" stroke-width="1.6"/>
<line x1="72.7" y1="402" x2="72.7" y2="409" class="xtk"/><line x1="125.8" y1="402" x2="125.8" y2="409" class="xtk"/><line x1="173.7" y1="402" x2="173.7" y2="409" class="xtk"/><line x1="226.8" y1="402" x2="226.8" y2="409" class="xtk"/><line x1="278.1" y1="402" x2="278.1" y2="409" class="xtk"/><line x1="331.2" y1="402" x2="331.2" y2="409" class="xtk"/><line x1="382.6" y1="402" x2="382.6" y2="409" class="xtk"/><line x1="435.6" y1="402" x2="435.6" y2="409" class="xtk"/><line x1="488.7" y1="402" x2="488.7" y2="409" class="xtk"/><line x1="540.1" y1="402" x2="540.1" y2="409" class="xtk"/><line x1="593.1" y1="402" x2="593.1" y2="409" class="xtk"/><line x1="644.5" y1="402" x2="644.5" y2="409" class="xtk"/><line x1="697.6" y1="402" x2="697.6" y2="409" class="xtk"/>
<text transform="translate(98.7,420.4) rotate(-26)" dy="0.36em" class="ml" textLength="31.4" lengthAdjust="spacingAndGlyphs">Ιανουάριος</text><text transform="translate(149.2,421.8) rotate(-26)" dy="0.36em" class="ml" textLength="37.8" lengthAdjust="spacingAndGlyphs">Φεβρουάριος</text><text transform="translate(199.7,418.5) rotate(-26)" dy="0.36em" class="ml" textLength="23.2" lengthAdjust="spacingAndGlyphs">Μάρτιος</text><text transform="translate(252.0,419.1) rotate(-26)" dy="0.36em" class="ml" textLength="25.9" lengthAdjust="spacingAndGlyphs">Απρίλιος</text><text transform="translate(304.2,417.2) rotate(-26)" dy="0.36em" class="ml" textLength="17.0" lengthAdjust="spacingAndGlyphs">Μάιος</text><text transform="translate(356.4,418.0) rotate(-26)" dy="0.36em" class="ml" textLength="20.4" lengthAdjust="spacingAndGlyphs">Ιούνιος</text><text transform="translate(408.6,418.0) rotate(-26)" dy="0.36em" class="ml" textLength="20.4" lengthAdjust="spacingAndGlyphs">Ιούλιος</text><text transform="translate(461.7,420.4) rotate(-26)" dy="0.36em" class="ml" textLength="31.5" lengthAdjust="spacingAndGlyphs">Αύγουστος</text><text transform="translate(513.9,421.3) rotate(-26)" dy="0.36em" class="ml" textLength="35.6" lengthAdjust="spacingAndGlyphs">Σεπτέμβριος</text><text transform="translate(566.1,420.3) rotate(-26)" dy="0.36em" class="ml" textLength="31.2" lengthAdjust="spacingAndGlyphs">Οκτώβριος</text><text transform="translate(618.3,420.0) rotate(-26)" dy="0.36em" class="ml" textLength="30.0" lengthAdjust="spacingAndGlyphs">Νοέμβριος</text><text transform="translate(670.5,420.6) rotate(-26)" dy="0.36em" class="ml" textLength="32.4" lengthAdjust="spacingAndGlyphs">Δεκέμβριος</text>
<circle cx="696.7" cy="195.2" r="4.2" fill="#ee1b1b" stroke="#000" stroke-width="1.3"/>
<circle cx="655.4" cy="285.4" r="5.4" fill="#ee1b1b" stroke="#000" stroke-width="1.6"/>
<text x="706.9" y="198.8" font-size="12.4" fill="#cf2030" textLength="25.8" lengthAdjust="spacingAndGlyphs">2024</text>
<g style="paint-order:stroke" stroke="#fff" stroke-width="2" stroke-linejoin="round">
<text x="654.95" y="300.6" font-size="8.8" fill="#888" text-anchor="middle" textLength="23.3" lengthAdjust="spacingAndGlyphs">07/12</text>
<text x="655.1" y="310.6" font-size="8.8" fill="#888" text-anchor="middle" textLength="40.2" lengthAdjust="spacingAndGlyphs">594.6 mm</text>
</g>
<!-- legend -->
<rect x="75.7" y="53.6" width="126.3" height="73.4" fill="#fff" stroke="#f0f0f0" stroke-width="1"/>
<line x1="84" y1="65.5" x2="101.3" y2="65.5" stroke="#000" stroke-width="2.6" stroke-dasharray="7,3"/>
<rect x="84" y="75" width="17.3" height="6" fill="#4dcff5"/>
<rect x="84" y="87.3" width="17.3" height="5.6" fill="#c5a24c"/>
<rect x="82" y="101" width="21" height="3.8" fill="#ee1b1b"/>
<rect x="81.3" y="112.2" width="22.6" height="5.7" fill="#000"/>
<text x="108" y="68.5" font-size="8.5" fill="#111" textLength="80.8" lengthAdjust="spacingAndGlyphs">Μέση τιμή 2015-2024</text>
<text x="108" y="81" font-size="8.5" fill="#111" textLength="86" lengthAdjust="spacingAndGlyphs">Πάνω από τη μέση τιμή</text>
<text x="108" y="93.3" font-size="8.5" fill="#111" textLength="86" lengthAdjust="spacingAndGlyphs">Κάτω από τη μέση τιμή</text>
<text x="108" y="106" font-size="8.5" fill="#111">2024</text>
<text x="108" y="118.3" font-size="8.5" fill="#111">2025</text>
<text x="387.5" y="449" stroke="#111" stroke-width="0.3" font-size="13" text-anchor="middle" fill="#111" textLength="62.5" lengthAdjust="spacingAndGlyphs">Ημερομηνία</text>
<text transform="translate(12.6,225.6) rotate(-90)" stroke="#111" stroke-width="0.2" font-size="11.5" text-anchor="middle" fill="#111" textLength="111" lengthAdjust="spacingAndGlyphs">Χιλιοστά βροχής [mm]</text>
<g>
<circle cx="697.2" cy="438" r="11.6" fill="none" stroke="#c4c4c4" stroke-width="1.4"/>
<circle cx="697.2" cy="438" r="9.6" fill="none" stroke="#e6e6e6" stroke-width="0.8"/>
<g fill="none" stroke="#bdbdbd" stroke-width="1.1" stroke-linecap="round">
<path d="M693,446 L693.5,437 Q693,432 695.5,431 Q697,430 697.5,433 L698,446"/>
<path d="M699,446 L699.5,436 Q700,430 701.5,431 Q703,433 702.5,437 L702,446"/>
<circle cx="695.5" cy="429.5" r="1.3"/>
<circle cx="701" cy="429" r="1.2"/>
</g>
<circle cx="721.2" cy="433.5" r="3.2" fill="#f5c31c"/>
<path d="M722.4,444.3 L724.5,434 L729.5,434 L733,439 L736.5,434 L743,434 L743,444.3 L738,444.3 L738,440 L734.5,444.3 L731.5,444.3 L728.5,440.5 L727.5,444.3 Z" fill="#2b2fcf"/>
<text x="745.9" y="438.3" font-size="6.6" fill="#5a60cc" style="font-weight:normal" textLength="16.6" lengthAdjust="spacingAndGlyphs">Meteo</text>
<rect x="746" y="440.6" width="11" height="0.9" fill="#b8bce8"/>
<rect x="746" y="443.2" width="13" height="0.9" fill="#b8bce8"/>
</g>
</svg>
</body></html>
